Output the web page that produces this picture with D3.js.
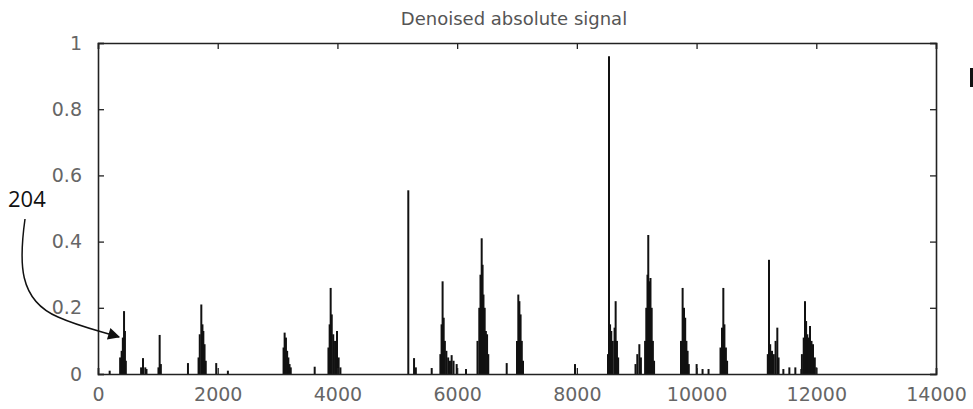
<!DOCTYPE html>
<html>
<head>
<meta charset="utf-8">
<script src="https://cdn.jsdelivr.net/npm/d3@7"></script>
<style>
  body { margin: 0; background: #fff; }
</style>
</head>
<body>
<div id="chart"></div>
<script>
// Data
const title = "Denoised absolute signal";
const xTicks = [0, 2000, 4000, 6000, 8000, 10000, 12000, 14000];
const yTicks = [0, 0.2, 0.4, 0.6, 0.8, 1];
const yTickLabels = ["0", "0.2", "0.4", "0.6", "0.8", "1"];

// sample index of each spike
const spikeX = [
  195, 370, 395, 415, 435, 450, 465,
  720, 752, 790, 810, 1010, 1030, 1050, 1503,
  1680, 1700, 1726, 1745, 1760, 1780, 1800, 1975, 2170,
  3100, 3118, 3140, 3160, 3180, 3200, 3220, 3620,
  3850, 3870, 3887, 3905, 3930, 3960, 3993, 4020, 4050,
  5184, 5280, 5310, 5575,
  5720, 5740, 5757, 5775, 5795, 5820, 5850, 5880, 5908, 5940, 5992, 6148,
  6340, 6370, 6390, 6410, 6425, 6440, 6460, 6480, 6500, 6520, 6828,
  7000, 7022, 7040, 7060, 7080, 7100, 7969,
  8520, 8537, 8555, 8575, 8600, 8630, 8648, 8670, 8690,
  8980, 9010, 9044, 9070,
  9140, 9160, 9180, 9193, 9210, 9230, 9250, 9270, 9290,
  9740, 9767, 9790, 9810, 9830, 9850, 9870, 10001, 10100, 10200,
  10400, 10425, 10447, 10465, 10490, 10510,
  11190, 11210, 11230, 11260, 11290, 11320, 11349, 11370,
  11450, 11550, 11650, 11750,
  11760, 11790, 11811, 11830, 11850, 11875, 11895, 11920, 11945, 11975, 12000
];
// absolute amplitude of each spike
const spikeY = [
  0.01, 0.05, 0.07, 0.11, 0.19, 0.13, 0.04,
  0.02, 0.048, 0.02, 0.015, 0.02, 0.118, 0.03, 0.033,
  0.05, 0.12, 0.21, 0.15, 0.13, 0.09, 0.04, 0.033, 0.01,
  0.08, 0.125, 0.11, 0.07, 0.05, 0.03, 0.02, 0.022,
  0.08, 0.15, 0.26, 0.18, 0.12, 0.10, 0.13, 0.05, 0.02,
  0.555, 0.048, 0.02, 0.018,
  0.06, 0.15, 0.28, 0.17, 0.10, 0.07, 0.05, 0.04, 0.057, 0.04, 0.03, 0.015,
  0.10, 0.20, 0.30, 0.41, 0.33, 0.24, 0.20, 0.13, 0.12, 0.06, 0.033,
  0.10, 0.24, 0.22, 0.18, 0.10, 0.04, 0.03,
  0.06, 0.96, 0.15, 0.13, 0.10, 0.14, 0.22, 0.10, 0.05,
  0.03, 0.06, 0.09, 0.05,
  0.10, 0.20, 0.30, 0.42, 0.28, 0.29, 0.20, 0.10, 0.04,
  0.10, 0.26, 0.20, 0.17, 0.10, 0.07, 0.03, 0.03, 0.015, 0.015,
  0.08, 0.14, 0.26, 0.15, 0.08, 0.04,
  0.06, 0.345, 0.09, 0.07, 0.06, 0.10, 0.14, 0.05,
  0.015, 0.02, 0.02, 0.015,
  0.06, 0.11, 0.22, 0.16, 0.12, 0.11, 0.145, 0.10, 0.09, 0.05, 0.02
];

const width = 973;
const height = 409;
const margin = {top: 43, right: 37, bottom: 35, left: 98};

const svg = d3.select("#chart")
  .append("svg")
  .attr("width", width)
  .attr("height", height)
  .style("font-family", "'DejaVu Sans', sans-serif");

const x = d3.scaleLinear()
  .domain([0, 14000])
  .range([margin.left, width - margin.right]);

const y = d3.scaleLinear()
  .domain([0, 1])
  .range([height - margin.bottom, margin.top]);

// spikes
svg.append("g")
  .selectAll("line")
  .data(spikeX.map((v, i) => ({x: v, y: spikeY[i]})))
  .join("line")
  .attr("x1", d => x(d.x))
  .attr("x2", d => x(d.x))
  .attr("y1", y(0))
  .attr("y2", d => y(d.y))
  .attr("stroke", "#111")
  .attr("stroke-width", 2);

// axes (box with inward ticks on all sides)
const tickLen = -6;
svg.append("g")
  .attr("transform", `translate(0,${y(0)})`)
  .call(d3.axisBottom(x).tickValues(xTicks).tickSize(tickLen).tickPadding(14).tickFormat(d3.format("d")));
svg.append("g")
  .attr("transform", `translate(0,${y(1)})`)
  .call(d3.axisTop(x).tickValues(xTicks).tickSize(tickLen).tickFormat(""));
svg.append("g")
  .attr("transform", `translate(${x(0)},0)`)
  .call(d3.axisLeft(y).tickValues(yTicks).tickSize(tickLen).tickPadding(16)
    .tickFormat((d, i) => yTickLabels[i]));
svg.append("g")
  .attr("transform", `translate(${x(14000)},0)`)
  .call(d3.axisRight(y).tickValues(yTicks).tickSize(tickLen).tickFormat(""));

svg.selectAll(".domain").attr("stroke", "#222").attr("stroke-width", 1.6);
svg.selectAll(".tick line").attr("stroke", "#222").attr("stroke-width", 1.3);
svg.selectAll(".tick text")
  .attr("fill", "#666")
  .style("font-size", "19px")
  .style("font-family", "'DejaVu Sans', sans-serif");

// title
svg.append("text")
  .attr("x", (x(0) + x(14000)) / 2 - 3)
  .attr("y", 25)
  .attr("text-anchor", "middle")
  .attr("fill", "#555")
  .style("font-size", "18px")
  .text(title);

// reference numeral and arrow
svg.append("defs").append("marker")
  .attr("id", "head")
  .attr("viewBox", "0 0 10 10")
  .attr("refX", 9)
  .attr("refY", 5)
  .attr("markerWidth", 16)
  .attr("markerHeight", 12)
  .attr("markerUnits", "userSpaceOnUse")
  .attr("orient", "auto")
  .append("path")
  .attr("d", "M0,0 L10,5 L0,10 Z")
  .attr("fill", "#111");

svg.append("text")
  .attr("x", 8)
  .attr("y", 207)
  .attr("fill", "#111")
  .style("font-family", "'Open Sans', sans-serif")
  .style("font-size", "22px")
  .text("204");

svg.append("path")
  .attr("d", "M25,219 C19,262 18,300 58,317 C78,326 96,330 119,337")
  .attr("fill", "none")
  .attr("stroke", "#111")
  .attr("stroke-width", 1.5)
  .attr("marker-end", "url(#head)");

// small mark at right edge
svg.append("rect")
  .attr("x", 970)
  .attr("y", 68)
  .attr("width", 3)
  .attr("height", 19)
  .attr("fill", "#111");
</script>
</body>
</html>
